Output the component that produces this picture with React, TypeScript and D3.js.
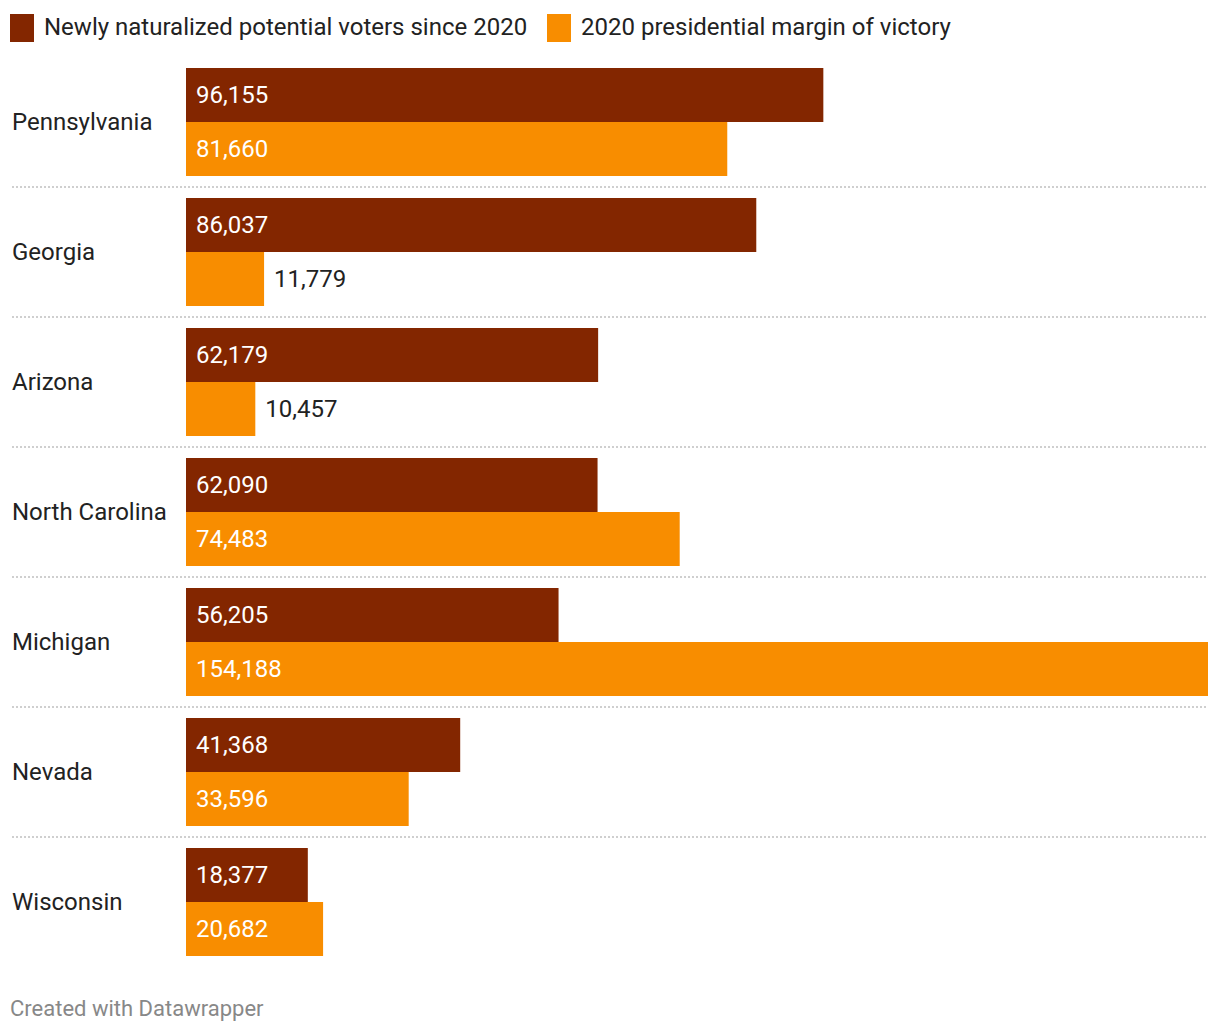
import React from "react";
import * as d3 from "d3";

const states = ["Pennsylvania", "Georgia", "Arizona", "North Carolina", "Michigan", "Nevada", "Wisconsin"];
const naturalized = [96155, 86037, 62179, 62090, 56205, 41368, 18377];
const margin2020 = [81660, 11779, 10457, 74483, 154188, 33596, 20682];
const seriesNames = ["Newly naturalized potential voters since 2020", "2020 presidential margin of victory"];
const colors = ["#832600", "#f88d00"];

const W = 1220;
const H = 1034;
const x0 = 186;
const x1 = 1208;
const top = 68;
const rowStep = 130;
const barH = 54;
const font = "Roboto, 'Noto Sans', sans-serif";

export default function App() {
  const x = d3.scaleLinear().domain([0, d3.max(margin2020.concat(naturalized)) as number]).range([x0, x1]);
  const y = d3.scaleBand().domain(states).range([top, top + rowStep * states.length]).paddingInner(0);
  const fmt = d3.format(",");
  const series = [naturalized, margin2020];

  return (
    <svg width={W} height={H} style={{ position: "absolute", left: 0, top: 0, background: "#fff" }} fontFamily={font}>
      {/* legend */}
      <rect x={10} y={14} width={24} height={28} fill={colors[0]} />
      <text x={44} y={35} fontSize={24} fill="#222">{seriesNames[0]}</text>
      <rect x={547} y={14} width={24} height={28} fill={colors[1]} />
      <text x={581} y={35} fontSize={24} fill="#222">{seriesNames[1]}</text>

      {states.map((s, i) => {
        const yy = y(s) as number;
        return (
          <g key={s}>
            <text x={12} y={yy + barH} dy="0.35em" fontSize={24} fill="#222">{s}</text>
            {series.map((vals, j) => {
              const v = vals[i];
              const by = yy + j * barH;
              const w = x(v) - x0;
              const inside = w > 110;
              return (
                <g key={j}>
                  <rect x={x0} y={by} width={w} height={barH} fill={colors[j]} />
                  <text
                    x={inside ? x0 + 10 : x(v) + 10}
                    y={by + barH / 2}
                    dy="0.35em"
                    fontSize={24}
                    fill={inside ? "#fff" : "#222"}
                  >
                    {fmt(v)}
                  </text>
                </g>
              );
            })}
            {i < states.length - 1 && (
              <line
                x1={12}
                x2={x1}
                y1={yy + 2 * barH + 11}
                y2={yy + 2 * barH + 11}
                stroke="#cfcfcf"
                strokeWidth={2}
                strokeDasharray="2,2"
              />
            )}
          </g>
        );
      })}

      <text x={10} y={1016} fontSize={22} fill="#888">Created with Datawrapper</text>
    </svg>
  );
}
